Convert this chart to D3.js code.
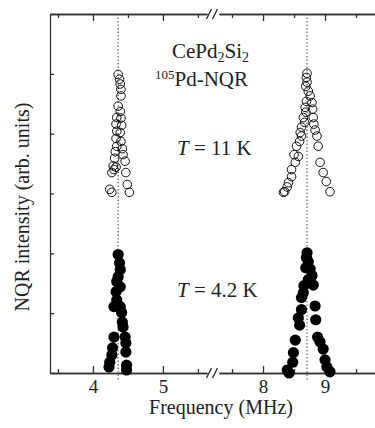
<!DOCTYPE html>
<html>
  <head>
    <meta charset="utf-8">
    <script src="https://d3js.org/d3.v7.min.js"></script>
    <title>CePd2Si2 NQR</title>
    <style>
      body { margin: 0px; background: #fff; }
      svg text { font-family: "Times New Roman", Times, "Liberation Serif", Tinos, "DejaVu Serif", "Noto Serif", serif; fill: #222; }
      .axis path, .axis line { stroke: #333; stroke-width: 1.3; }
    </style>
  </head>
  <body>
    <svg width="375" height="428"></svg>
    <script>
      // 11 K spectrum (open circles): frequency (MHz) and intensity (arb.)
      const freq11 = [4.36, 4.38, 4.39, 4.40, 4.40, 4.36, 4.39, 4.34, 4.40, 4.33, 4.41, 4.34, 4.39, 4.33, 4.40,
        4.34, 4.42, 4.32, 4.43, 4.31, 4.46, 4.29, 4.33, 4.30, 4.27, 4.47, 4.49, 4.24, 4.27, 4.52,
        8.71, 8.70, 8.71, 8.69, 8.73, 8.76, 8.70, 8.79, 8.68, 8.80, 8.69, 8.65, 8.81, 8.67, 8.82, 8.62,
        8.84, 8.60, 8.62, 8.87, 8.59, 8.89, 8.54, 8.50, 8.57, 8.52, 8.92, 8.46, 8.97, 8.46, 9.02, 8.41,
        8.39, 8.35, 9.08, 8.33];
      const int11 = [4.99, 4.91, 4.83, 4.74, 4.63, 4.46, 4.37, 4.27, 4.26, 4.16, 4.14, 4.04, 4.02, 3.92, 3.87,
        3.79, 3.75, 3.70, 3.65, 3.59, 3.54, 3.46, 3.44, 3.40, 3.35, 3.35, 3.15, 3.07, 3.02, 3.02,
        5.01, 4.94, 4.86, 4.79, 4.71, 4.63, 4.54, 4.52, 4.44, 4.41, 4.36, 4.27, 4.27, 4.19, 4.16, 4.11,
        4.06, 4.02, 3.96, 3.96, 3.87, 3.79, 3.79, 3.65, 3.62, 3.52, 3.52, 3.40, 3.35, 3.28, 3.20, 3.18,
        3.11, 3.03, 3.03, 3.02];

      // 4.2 K spectrum (filled circles)
      const freq42 = [4.36, 4.38, 4.39, 4.36, 4.34, 4.39, 4.33, 4.34, 4.30, 4.39, 4.41, 4.42, 4.43, 4.30, 4.46,
        4.47, 4.28, 4.47, 4.27, 4.24, 4.48, 4.23, 4.48,
        8.71, 8.70, 8.73, 8.69, 8.76, 8.79, 8.73, 8.66, 8.81, 8.65, 8.62, 8.84, 8.62, 8.57, 8.85, 8.59,
        8.88, 8.52, 8.92, 8.97, 8.49, 9.00, 8.48, 8.39, 9.03, 9.08, 8.42];
      const int42 = [1.98, 1.84, 1.73, 1.61, 1.53, 1.44, 1.36, 1.22, 1.11, 1.11, 1.01, 0.85, 0.77, 0.60, 0.60,
        0.50, 0.42, 0.35, 0.30, 0.18, 0.13, 0.10, 0.05,
        2.01, 1.93, 1.86, 1.76, 1.74, 1.63, 1.56, 1.46, 1.47, 1.34, 1.26, 1.12, 1.06, 0.92, 0.89, 0.80,
        0.60, 0.55, 0.52, 0.40, 0.34, 0.22, 0.18, 0.05, 0.10, 0.02, 0.00];

      const majorLow = [4, 5];
      const minorLow = [3.5, 4.5, 5.5];
      const majorHigh = [8, 9];
      const minorHigh = [7.5, 8.5, 9.5];
      const yTicks = [0, 1, 2, 3, 4, 5, 6];
      const refLines = [4.36, 8.71];

      const serif = '"Times New Roman", Times, "Liberation Serif", Tinos, "DejaVu Serif", "Noto Serif", serif';
      const svg = d3.select('svg');
      const yTop = 14, yBottom = 373, xLeft = 50;

      const xLow = d3.scaleLinear().domain([3.386, 5.63]).range([xLeft, 207]);
      const xHigh = d3.scaleLinear().domain([7.29, 9.806]).range([219, 375]);
      const x = f => f < 6.5 ? xLow(f) : xHigh(f);
      const y = d3.scaleLinear().domain([0, 6]).range([yBottom, yTop]);

      const addAxis = (axis, ty) => {
        const g = svg.append('g').attr('class', 'axis')
          .attr('transform', `translate(0,${ty})`).call(axis)
          .attr('font-family', serif);
        g.selectAll('text').attr('font-size', 19).attr('fill', '#222');
        return g;
      };
      [xLow, xHigh].forEach((sc, i) => {
        const maj = i === 0 ? majorLow : majorHigh;
        const min = i === 0 ? minorLow : minorHigh;
        addAxis(d3.axisBottom(sc).tickValues(maj).tickFormat(d3.format('d'))
          .tickSizeInner(-7).tickSizeOuter(0).tickPadding(7), yBottom);
        addAxis(d3.axisBottom(sc).tickValues(min).tickSizeInner(-4).tickSizeOuter(0).tickFormat(''), yBottom);
        addAxis(d3.axisTop(sc).tickValues(maj).tickSizeInner(-7).tickSizeOuter(0).tickFormat(''), yTop);
        addAxis(d3.axisTop(sc).tickValues(min).tickSizeInner(-4).tickSizeOuter(0).tickFormat(''), yTop);
      });
      svg.append('g').attr('class', 'axis')
        .attr('transform', `translate(${xLeft},0)`)
        .call(d3.axisLeft(y).tickValues(yTicks).tickSizeInner(-4).tickSizeOuter(0).tickFormat(''));

      // axis break marks
      [yTop, yBottom].forEach(ty => {
        [209, 215].forEach(bx => {
          svg.append('line')
            .attr('x1', bx - 2.5).attr('y1', ty + 5)
            .attr('x2', bx + 2.5).attr('y2', ty - 5)
            .attr('stroke', '#222').attr('stroke-width', 1.3);
        });
      });

      // dotted reference lines
      svg.selectAll('.ref').data(refLines).enter().append('line')
        .attr('class', 'ref')
        .attr('x1', d => x(d)).attr('x2', d => x(d))
        .attr('y1', yTop).attr('y2', yBottom + 8)
        .attr('stroke', '#444').attr('stroke-width', 1)
        .attr('stroke-dasharray', '1.5,2');

      // 11 K open circles
      svg.selectAll('.open').data(d3.range(freq11.length)).enter().append('circle')
        .attr('class', 'open')
        .attr('cx', i => x(freq11[i])).attr('cy', i => y(int11[i]))
        .attr('r', 4.3)
        .attr('fill', 'none').attr('stroke', '#111').attr('stroke-width', 1);

      // 4.2 K filled circles
      svg.selectAll('.filled').data(d3.range(freq42.length)).enter().append('circle')
        .attr('class', 'filled')
        .attr('cx', i => x(freq42[i])).attr('cy', i => y(int42[i]))
        .attr('r', 5.6)
        .attr('fill', '#000');

      // annotations
      const t1 = svg.append('text').attr('x', 172).attr('y', 58)
        .attr('font-family', serif).attr('font-size', 21);
      t1.append('tspan').text('CePd');
      t1.append('tspan').attr('font-size', 14).attr('dy', 4).text('2');
      t1.append('tspan').attr('dy', -4).text('Si');
      t1.append('tspan').attr('font-size', 14).attr('dy', 4).text('2');

      const t2 = svg.append('text').attr('x', 155).attr('y', 86)
        .attr('font-family', serif).attr('font-size', 21);
      t2.append('tspan').attr('font-size', 13).attr('dy', -7).text('105');
      t2.append('tspan').attr('dy', 7).text('Pd-NQR');

      const temp = (ty, label) => {
        const t = svg.append('text').attr('x', 177).attr('y', ty)
          .attr('font-family', serif).attr('font-size', 21);
        t.append('tspan').attr('font-style', 'italic').text('T');
        t.append('tspan').text(' = ' + label);
      };
      temp(155, '11 K');
      temp(297, '4.2 K');

      svg.append('text')
        .attr('x', 221).attr('y', 414)
        .attr('text-anchor', 'middle').attr('font-family', serif).attr('font-size', 20)
        .text('Frequency (MHz)');

      svg.append('text')
        .attr('transform', 'translate(29,207) rotate(-90)')
        .attr('text-anchor', 'middle').attr('font-family', serif).attr('font-size', 20)
        .text('NQR intensity (arb. units)');
    </script>
  </body>
</html>
